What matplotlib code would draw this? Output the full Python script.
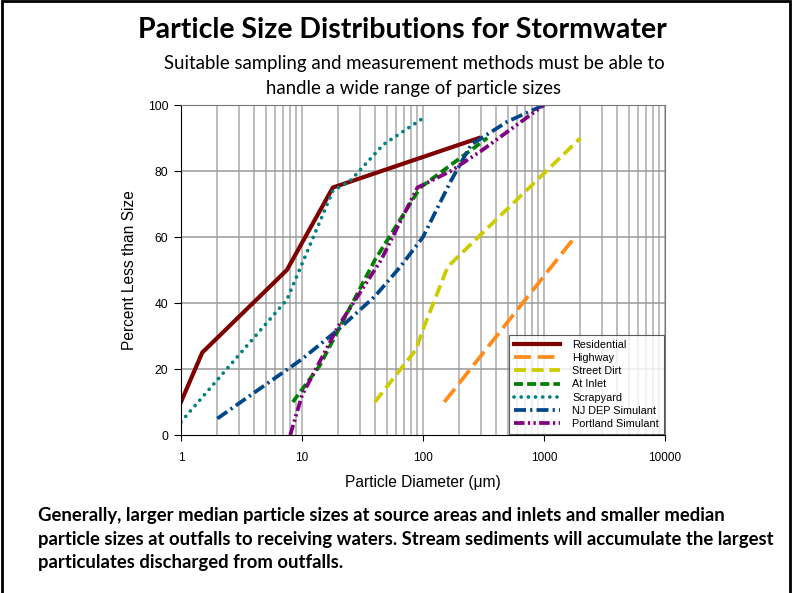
import numpy as np
import matplotlib
matplotlib.use('Agg')
import matplotlib.pyplot as plt
from matplotlib.patches import Rectangle

# datos (diametro en um, porcentaje menor que)
res_x = [1, 1.5, 7.5, 18, 290]
res_y = [10, 25, 50, 75, 90]

hwy_x = [150, 1800]
hwy_y = [10, 60]

dirt_x = [40, 88, 100, 160, 2000]
dirt_y = [10, 26, 32, 51, 90]

inlet_x = [8.4, 14, 40, 95, 340]
inlet_y = [10, 21, 53, 75, 90]

scrap_x = [1, 7.5, 18, 25, 47, 100]
scrap_y = [4, 41, 74, 77, 88, 96]

nj_x = [2, 10, 20, 40, 65, 100, 170, 250, 500, 1000]
nj_y = [5, 23, 32, 42, 51, 60, 77, 88, 95, 100]

port_x = [8, 10, 20, 45, 90, 170, 300, 1000]
port_y = [0, 12, 33, 53, 75, 80, 86, 100]

x_ticks = [1, 10, 100, 1000, 10000]
x_labels = ['1', '10', '100', '1000', '10000']
y_ticks = [0, 20, 40, 60, 80, 100]

fig = plt.figure(figsize=(7.93, 5.93), dpi=100)
ax = fig.add_axes([0.2282, 0.2664, 0.6104, 0.5565])

arial = 'Liberation Sans'
lw = 2.7
ax.plot(res_x, res_y, color='#7F0000', lw=3.0, label='Residential')
ax.plot(hwy_x, hwy_y, color='#FF8C1A', lw=lw, ls=(0, (4.5, 1.8)), label='Highway')
ax.plot(dirt_x, dirt_y, color='#CCCC00', lw=lw, ls=(0, (3.2, 1.5)), label='Street Dirt')
ax.plot(inlet_x, inlet_y, color='#008000', lw=lw, ls=(0, (2.4, 1.1)), label='At Inlet')
ax.plot(scrap_x, scrap_y, color='#008080', lw=lw, ls=(0, (0.01, 1.9)),
        dash_capstyle='round', label='Scrapyard')
ax.plot(nj_x, nj_y, color='#00468B', lw=lw, ls=(0, (3.2, 1.1, 0.6, 1.1)), label='NJ DEP Simulant')
ax.plot(port_x, port_y, color='#800080', lw=lw, ls=(0, (2.8, 0.9, 0.6, 0.9, 0.6, 0.9)),
        label='Portland Simulant')

ax.set_xscale('log')
ax.set_xlim(1, 10000)
ax.set_ylim(0, 100)
ax.set_xticks(x_ticks)
ax.set_xticklabels(x_labels, fontfamily=arial, fontsize=8.5)
ax.set_xticks([], minor=True)
ax.set_yticks(y_ticks)
ax.set_yticklabels([str(v) for v in y_ticks], fontfamily=arial, fontsize=8.7)
ax.tick_params(axis='x', length=4, direction='out', pad=8)
ax.tick_params(axis='y', length=5, direction='out', pad=4)

# rejilla: todas las divisiones log en x, cada 20 en y
for dec in [1, 10, 100, 1000]:
    for m in range(2, 11):
        ax.axvline(dec * m, color='#AAAAAA', lw=1.1, zorder=0)
for v in y_ticks[1:-1]:
    ax.axhline(v, color='#999999', lw=1.1, zorder=0)

for s in ['left', 'bottom']:
    ax.spines[s].set_color('black')
for s in ['top', 'right']:
    ax.spines[s].set_color('#777777')

ax.set_xlabel('Particle Diameter (μm)', fontfamily=arial, fontsize=11.2, labelpad=8)
ax.set_ylabel('Percent Less than Size', fontfamily=arial, fontsize=11.2, labelpad=8)

leg = ax.legend(loc='lower right', prop={'family': arial, 'size': 7.8}, frameon=True,
                fancybox=False, edgecolor='#333333', borderaxespad=0.1,
                handlelength=4.3, labelspacing=0.3, borderpad=0.45, handletextpad=1.1)
leg.get_frame().set_linewidth(0.8)

fig.text(0.507, 0.950, 'Particle Size Distributions for Stormwater', ha='center', va='center',
         fontfamily='Lato', fontweight='bold', fontsize=20.5)
fig.text(0.522, 0.893, 'Suitable sampling and measurement methods must be able to',
         ha='center', va='center', fontfamily='Lato', fontsize=13.4)
fig.text(0.522, 0.850, 'handle a wide range of particle sizes',
         ha='center', va='center', fontfamily='Lato', fontsize=13.4)

texto = ('Generally, larger median particle sizes at source areas and inlets and smaller median\n'
         'particle sizes at outfalls to receiving waters. Stream sediments will accumulate the largest\n'
         'particulates discharged from outfalls.')
fig.text(0.048, 0.091, texto, ha='left', va='center', fontfamily='Lato', fontweight='bold',
         fontsize=13.3, linespacing=1.47)

# marco de la diapositiva
fig.patches.append(Rectangle((0.002, -0.05), 0.994, 1.048, transform=fig.transFigure,
                             fill=False, edgecolor='black', lw=2))

fig.savefig('out.png', dpi=100)
